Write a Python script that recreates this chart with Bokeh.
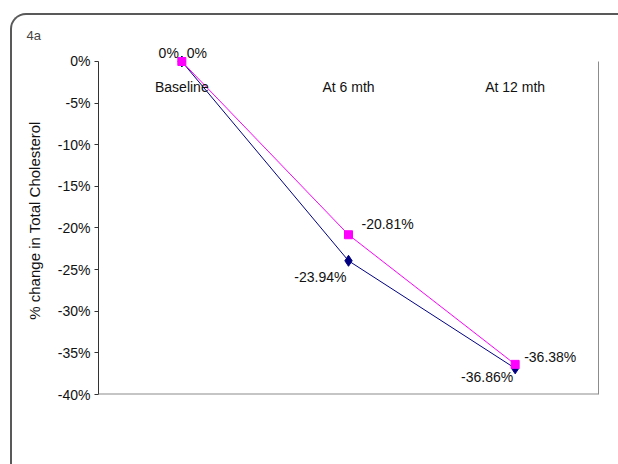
from bokeh.plotting import figure
from bokeh.models import (FactorRange, Range1d, FixedTicker, LinearAxis, Legend,
                          LegendItem, Span)
from bokeh.core.properties import value
from bokeh.embed import file_html
from bokeh.resources import INLINE

# ---------------- data ----------------
categories = ["Baseline", "At 6 mth", "At 12 mth"]
group_a = [0.0, -23.94, -36.86]
group_b = [0.0, -20.81, -36.38]
label_a = ["0%", "-23.94%", "-36.86%"]
label_b = ["0%", "-20.81%", "-36.38%"]
y_ticks = [0, -5, -10, -15, -20, -25, -30, -35, -40]
y_tick_labels = ["0%", "-5%", "-10%", "-15%", "-20%", "-25%", "-30%", "-35%", "-40%"]
series_names = ["Group A", "Group B"]

# ---------------- styles ----------------
FONT = "Liberation Sans"
COLOR_A = "#000080"
COLOR_B = "#FF00FF"
Y_HEADROOM = 1.8          # room above 0% for the "0%" data labels
Y_TOP, Y_BOT = max(y_ticks), min(y_ticks)

p = figure(frame_width=500, frame_height=348,
           x_range=FactorRange(*categories),
           y_range=Range1d(Y_BOT, Y_TOP + Y_HEADROOM),
           output_backend="svg", toolbar_location=None,
           min_border_left=86, min_border_right=20,
           min_border_top=31, min_border_bottom=67)
p.styles = {"margin-left": "10px", "margin-top": "13px",
            "border-left": "2px solid #595959", "border-top": "2px solid #595959",
            "border-bottom": "2px solid #595959",
            "border-top-left-radius": "16px", "border-bottom-left-radius": "16px"}
p.background_fill_color = "white"
p.border_fill_color = None
p.outline_line_color = None
p.xgrid.grid_line_color = None
p.ygrid.grid_line_color = None
p.xaxis.visible = False

# title "4a"
p.title.text = "4a"
p.title.text_font = FONT
p.title.text_font_size = "13px"
p.title.text_font_style = "normal"
p.title.align = "left"
p.title.offset = -72
p.title.standoff = 7

# y axis (line limited to 0% .. -40%)
yax = p.yaxis[0]
yax.bounds = (Y_BOT, Y_TOP)
yax.ticker = FixedTicker(ticks=y_ticks)
yax.major_label_overrides = {t: l for t, l in zip(y_ticks, y_tick_labels)}
yax.minor_tick_line_color = None
yax.major_tick_in = 0
yax.major_tick_out = 4
yax.major_tick_line_color = "#333333"
yax.axis_line_color = "#333333"
yax.major_label_text_font = FONT
yax.major_label_text_font_size = "14px"
yax.major_label_text_color = "#111111"
yax.major_label_standoff = 4
yax.axis_label = "% change in Total Cholesterol"
yax.axis_label_text_font = FONT
yax.axis_label_text_font_size = "15px"
yax.axis_label_text_font_style = "normal"
yax.axis_label_text_color = "#111111"
yax.axis_label_standoff = 12

# right grey border line
rax = LinearAxis(ticker=FixedTicker(ticks=[]), bounds=(Y_BOT, Y_TOP),
                 major_label_text_color=None,
                 major_tick_line_color=None, minor_tick_line_color=None,
                 axis_line_color="#8c8c8c")
p.add_layout(rax, "right")

# bottom grey border line
p.add_layout(Span(location=Y_BOT, dimension="width",
                  line_color="#8c8c8c", line_width=2))

# series
ra_line = p.line(categories, group_a, line_color=COLOR_A, line_width=1)
ra_mark = p.scatter(categories, group_a, marker="diamond", size=11,
                    fill_color=COLOR_A, line_color=COLOR_A)
rb_line = p.line(categories, group_b, line_color=COLOR_B, line_width=1)
rb_mark = p.scatter(categories, group_b, marker="square", size=8,
                    fill_color=COLOR_B, line_color=COLOR_B)

# data labels
p.text(x=categories, y=group_a, text=label_a,
       x_offset=[-3, -2, -2], y_offset=[-8, 16, 9],
       text_align="right", text_baseline="middle",
       text_font=value(FONT), text_font_size="14px", text_color="#111111")
p.text(x=categories, y=group_b, text=label_b,
       x_offset=[5, 13, 9], y_offset=[-8, -11, -7],
       text_align="left", text_baseline="middle",
       text_font=value(FONT), text_font_size="14px", text_color="#111111")

# category labels (axis crossing at 0)
p.text(x=categories, y=[Y_TOP] * len(categories), text=categories,
       y_offset=26, text_align="center", text_baseline="middle",
       text_font=value(FONT), text_font_size="14px", text_color="#111111")

# legend
legend = Legend(items=[LegendItem(label=series_names[0], renderers=[ra_line, ra_mark]),
                       LegendItem(label=series_names[1], renderers=[rb_line, rb_mark])],
                orientation="horizontal", location=(138, 0),
                border_line_color="black", border_line_width=1,
                background_fill_color="white", background_fill_alpha=1,
                label_text_font=FONT, label_text_font_size="14px",
                label_text_color="#111111",
                glyph_width=35, glyph_height=14, label_height=21,
                label_standoff=4, spacing=6, padding=6, margin=14)
p.add_layout(legend, "below")

open("out.html", "w").write(file_html(p, INLINE))
